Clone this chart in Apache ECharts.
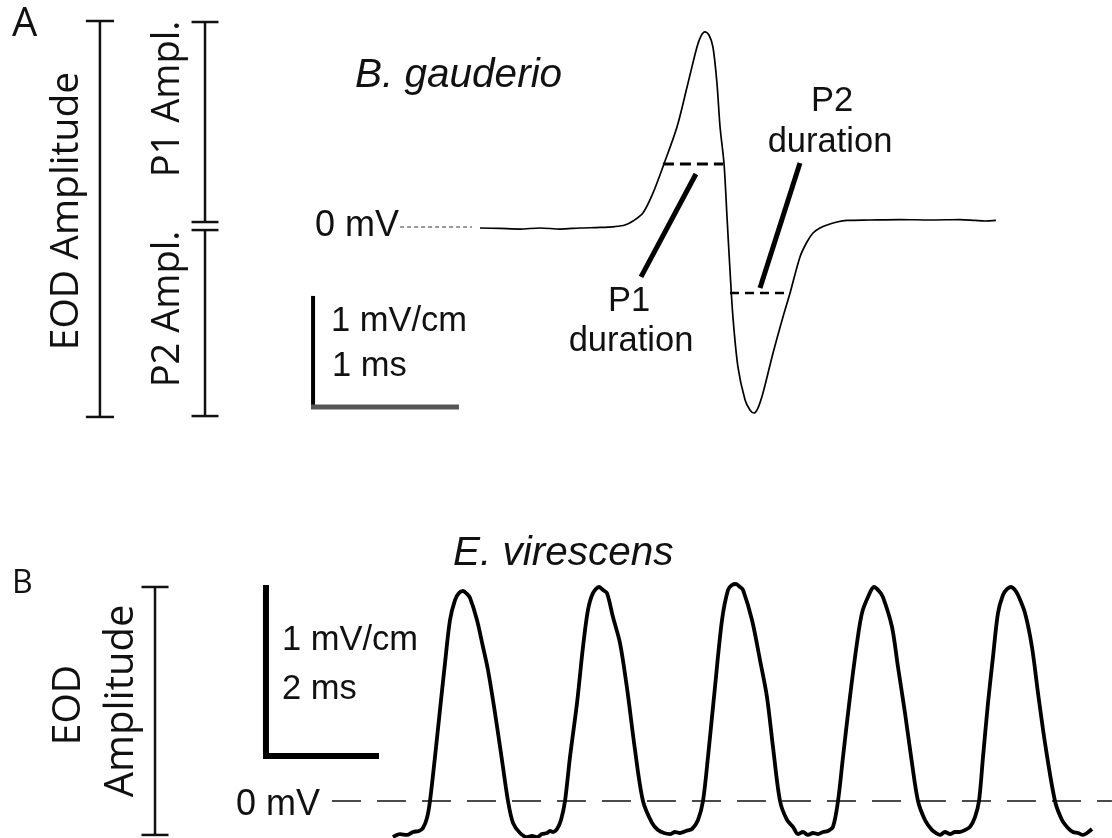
<!DOCTYPE html>
<html>
<head>
<meta charset="utf-8">
<title>EOD waveforms</title>
<script src="https://cdn.jsdelivr.net/npm/echarts@6/dist/echarts.min.js"></script>
<style>
  html, body { margin: 0; padding: 0; background: #fff; }
  #chart { width: 1112px; height: 838px; }
</style>
</head>
<body>
<div id="chart"></div>
<script>
// ---- B. gauderio: biphasic EOD (time in ms, voltage in mV) ----
const gauderioTrace = [
  [0.000, -0.009], [0.135, -0.013], [0.270, -0.018], [0.405, -0.009], [0.541, -0.018],
  [0.676, -0.009], [0.811, -0.004], [0.912, 0.004], [0.980, 0.018], [1.034, 0.053],
  [1.101, 0.124], [1.169, 0.301], [1.243, 0.558], [1.331, 0.885], [1.399, 1.239],
  [1.466, 1.593], [1.493, 1.690], [1.520, 1.726], [1.547, 1.699], [1.574, 1.593],
  [1.601, 1.274], [1.622, 0.885], [1.649, 0.558], [1.669, 0.088], [1.689, -0.381],
  [1.709, -0.796], [1.743, -1.239], [1.791, -1.531], [1.824, -1.619], [1.851, -1.646],
  [1.878, -1.602], [1.912, -1.469], [1.980, -1.115], [2.047, -0.796], [2.095, -0.584],
  [2.162, -0.265], [2.209, -0.133], [2.250, -0.053], [2.297, -0.009], [2.345, 0.018],
  [2.412, 0.044], [2.480, 0.058], [2.635, 0.062], [2.838, 0.066], [3.041, 0.062],
  [3.243, 0.066], [3.345, 0.058], [3.412, 0.053], [3.486, 0.058]
];

// duration markers and their pointer strokes (ms, mV)
const p1DurationBar = [[1.236, 0.558], [1.642, 0.558]];
const p2DurationBar = [[1.689, -0.584], [2.095, -0.584]];
const p1Pointer = [[1.459, 0.469], [1.088, -0.442]];
const p2Pointer = [[2.162, 0.566], [1.892, -0.540]];
const gauderioZeroLine = [[-0.54, 0], [-0.054, 0]];

// calibration: 1 mV vertical, 1 ms horizontal
const gauderioScaleV = [[-1.128, -1.610], [-1.128, -0.610]];
const gauderioScaleH = [[-1.142, -1.593], [-0.142, -1.593]];

// amplitude brackets (top, bottom) in mV
const eodAmplitudeA = [1.823, -1.681];
const p1Amplitude = [1.814, 0.044];
const p2Amplitude = [-0.027, -1.673];

// ---- E. virescens: wave-type EOD (time in ms, voltage in mV) ----
const virescensTrace = [
  [0.224, -0.207], [0.345, -0.190], [0.466, -0.195], [0.569, -0.178], [0.672, -0.172],
  [0.741, -0.155], [0.810, -0.098], [0.862, 0.000], [0.948, 0.253], [1.034, 0.523],
  [1.121, 0.793], [1.207, 1.040], [1.293, 1.155], [1.362, 1.195], [1.431, 1.207],
  [1.500, 1.190], [1.552, 1.167], [1.672, 1.040], [1.776, 0.885], [1.862, 0.753],
  [1.983, 0.506], [2.103, 0.236], [2.207, 0.000], [2.293, -0.126], [2.414, -0.184],
  [2.534, -0.207], [2.621, -0.201], [2.707, -0.207], [2.793, -0.190], [2.879, -0.184],
  [2.931, -0.172], [2.983, -0.178], [3.052, -0.161], [3.121, -0.109], [3.190, 0.000],
  [3.276, 0.253], [3.397, 0.563], [3.500, 0.885], [3.586, 1.098], [3.672, 1.195],
  [3.776, 1.230], [3.845, 1.213], [3.914, 1.195], [4.017, 1.057], [4.138, 0.908],
  [4.259, 0.649], [4.397, 0.293], [4.534, 0.000], [4.690, -0.126], [4.793, -0.167],
  [4.897, -0.184], [5.000, -0.190], [5.086, -0.178], [5.172, -0.184], [5.276, -0.172],
  [5.379, -0.161], [5.483, -0.109], [5.569, 0.000], [5.655, 0.253], [5.776, 0.655],
  [5.897, 1.040], [6.000, 1.213], [6.069, 1.241], [6.138, 1.247], [6.207, 1.230],
  [6.259, 1.213], [6.414, 1.040], [6.552, 0.810], [6.672, 0.598], [6.776, 0.310],
  [6.897, 0.000], [7.017, -0.109], [7.121, -0.149], [7.207, -0.190], [7.293, -0.178],
  [7.379, -0.195], [7.466, -0.184], [7.552, -0.190], [7.638, -0.178], [7.724, -0.172],
  [7.810, -0.149], [7.897, 0.000], [7.983, 0.253], [8.103, 0.598], [8.224, 0.908],
  [8.310, 1.080], [8.414, 1.172], [8.517, 1.230], [8.603, 1.207], [8.672, 1.172],
  [8.828, 1.000], [8.931, 0.770], [9.052, 0.506], [9.172, 0.218], [9.276, 0.000],
  [9.397, -0.109], [9.517, -0.167], [9.586, -0.184], [9.655, -0.195], [9.741, -0.178],
  [9.828, -0.190], [9.914, -0.178], [10.000, -0.178], [10.086, -0.167], [10.172, -0.149],
  [10.259, -0.092], [10.328, 0.000], [10.397, 0.253], [10.483, 0.563], [10.569, 0.828],
  [10.655, 1.080], [10.741, 1.184], [10.810, 1.218], [10.879, 1.230], [10.948, 1.213],
  [11.000, 1.184], [11.121, 1.080], [11.241, 0.885], [11.345, 0.621], [11.466, 0.333],
  [11.638, 0.000], [11.759, -0.109], [11.862, -0.155], [11.948, -0.178], [12.034, -0.184],
  [12.121, -0.195], [12.190, -0.184], [12.276, -0.161]
];
const virescensZeroLine = [[-0.828, 0], [12.62, 0]];
// calibration: 1 mV vertical, 2 ms horizontal
const virescensScaleV = [[-1.966, 0.241], [-1.966, 1.241]];
const virescensScaleH = [[-2.017, 0.259], [-0.017, 0.259]];
const eodAmplitudeB = [1.230, -0.195];

// ---- helpers ----
function path(points, gridIndex, width, color, dash, smooth) {
  return {
    type: 'line', xAxisIndex: gridIndex, yAxisIndex: gridIndex,
    data: points, symbol: 'none', showSymbol: false, silent: true,
    smooth: smooth || false, clip: false,
    lineStyle: { color: color, width: width, type: dash || 'solid', cap: 'butt' },
    z: 3
  };
}
// vertical bracket with end caps between two levels
function bracket(x, halfCap, levels, gridIndex, width) {
  const top = levels[0], bot = levels[1];
  return [
    path([[x, top], [x, bot]], gridIndex, width, '#111'),
    path([[x - halfCap, top], [x + halfCap, top]], gridIndex, width, '#111'),
    path([[x - halfCap, bot], [x + halfCap, bot]], gridIndex, width, '#111')
  ];
}

const SANS = "'Liberation Sans', Arial, sans-serif";
const HUM = "'Open Sans', 'Noto Sans', sans-serif";
function label(text, x, y, size, family, opts) {
  opts = opts || {};
  return {
    type: 'text', x: x, y: y, rotation: opts.rot || 0, silent: true, z: 10,
    style: {
      text: text, fill: '#111',
      font: (opts.italic ? 'italic ' : '') + size + 'px ' + family,
      align: opts.align || 'left', verticalAlign: 'middle',
      textAlign: opts.align || 'left', textVerticalAlign: 'middle'
    }
  };
}

const series = [
  path(gauderioTrace, 0, 1.7, '#000', 'solid', 0.3),
  path(gauderioZeroLine, 0, 1, '#333', [4, 3]),
  path(p1DurationBar, 0, 3, '#000', [11, 6]),
  path(p2DurationBar, 0, 2.5, '#000', [9, 6]),
  path(p1Pointer, 0, 5, '#000'),
  path(p2Pointer, 0, 5, '#000'),
  path(gauderioScaleV, 0, 4, '#000'),
  path(gauderioScaleH, 0, 5, '#555'),
  ...bracket(-2.568, 0.095, eodAmplitudeA, 0, 2.5),
  ...bracket(-1.858, 0.091, p1Amplitude, 0, 2.5),
  ...bracket(-1.858, 0.091, p2Amplitude, 0, 2.5),

  path(virescensZeroLine, 1, 1.5, '#111', [29, 16]),
  path(virescensTrace, 1, 3.8, '#000', 'solid', 0.3),
  path(virescensScaleV, 1, 6, '#000'),
  path(virescensScaleH, 1, 6, '#000'),
  ...bracket(-3.879, 0.233, eodAmplitudeB, 1, 2.5)
];

const graphic = [
  // panel A
  label('A', 12, 25, 40, HUM),
  label('EOD Amplitude', 67, 211, 39, HUM, { rot: Math.PI / 2, align: 'center' }),
  label('P1 Ampl.', 168, 99, 38, HUM, { rot: Math.PI / 2, align: 'center' }),
  label('P2 Ampl.', 168, 309, 38, HUM, { rot: Math.PI / 2, align: 'center' }),
  label('B. gauderio', 355, 76, 40.5, SANS, { italic: true }),
  label('0 mV', 315, 226, 36, SANS),
  label('1 mV/cm', 331, 321, 34.5, SANS),
  label('1 ms', 332, 366, 34.5, SANS),
  label('P1', 629, 301, 34.5, SANS, { align: 'center' }),
  label('duration', 631, 341, 34.5, SANS, { align: 'center' }),
  label('P2', 832, 101, 34.5, SANS, { align: 'center' }),
  label('duration', 830, 142, 34.5, SANS, { align: 'center' }),
  // panel B
  label('B', 12, 584, 32, HUM),
  label('EOD', 69, 705, 39, HUM, { rot: Math.PI / 2, align: 'center' }),
  label('Amplitude', 122, 701, 40, HUM, { rot: Math.PI / 2, align: 'center' }),
  label('E. virescens', 453, 554, 40.5, SANS, { italic: true }),
  label('0 mV', 236, 805, 36, SANS),
  label('1 mV/cm', 282, 640, 34.5, SANS),
  label('2 ms', 282, 689, 34.5, SANS)
];

const chart = echarts.init(document.getElementById('chart'), null, { renderer: 'canvas' });
chart.setOption({
  animation: false,
  backgroundColor: '#fff',
  grid: [
    { left: 6.4, top: 1, width: 1095.2, height: 452, show: false, outerBoundsMode: 'none' },
    { left: 3, top: 540, width: 1109, height: 298, show: false, outerBoundsMode: 'none' }
  ],
  xAxis: [
    { type: 'value', gridIndex: 0, min: -3.2, max: 4.2, show: false },
    { type: 'value', gridIndex: 1, min: -6.5, max: 12.621, show: false }
  ],
  yAxis: [
    { type: 'value', gridIndex: 0, min: -2, max: 2, show: false },
    { type: 'value', gridIndex: 1, min: -0.2126, max: 1.5, show: false }
  ],
  series: series,
  graphic: graphic
});
</script>
</body>
</html>
